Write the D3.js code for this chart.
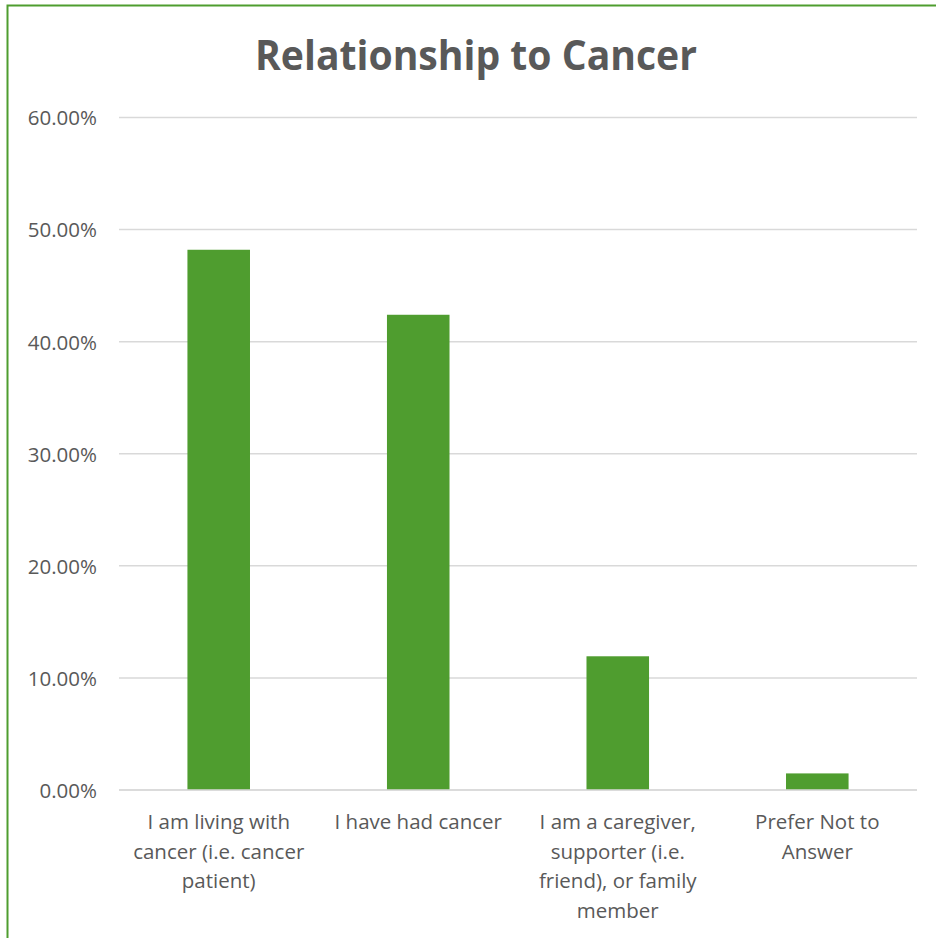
<!DOCTYPE html>
<html>
<head>
<meta charset="utf-8">
<script src="https://cdn.jsdelivr.net/npm/d3@7"></script>
<style>
  html, body { margin: 0; padding: 0; background: #fff; }
  svg { display: block; }
</style>
</head>
<body>
<svg id="chart" width="936" height="938"></svg>
<script>
const title = "Relationship to Cancer";
const categories = [
  "I am living with cancer (i.e. cancer patient)",
  "I have had cancer",
  "I am a caregiver, supporter (i.e. friend), or family member",
  "Prefer Not to Answer"
];
const categoryLines = [
  ["I am living with", "cancer (i.e. cancer", "patient)"],
  ["I have had cancer"],
  ["I am a caregiver,", "supporter (i.e.", "friend), or family", "member"],
  ["Prefer Not to", "Answer"]
];
const values = [0.482, 0.424, 0.1193, 0.0148];
const yTicks = [0, 0.1, 0.2, 0.3, 0.4, 0.5, 0.6];

const svg = d3.select("#chart");
const W = 936, H = 938;
const plot = { left: 119, right: 917, top: 117.5, bottom: 790 };
const textColor = "#595959";
const gridColor = "#D9D9D9";
const barColor = "#4F9D2F";
const font = "'Open Sans', 'Noto Sans', sans-serif";

// background + chart border (only top/left visible)
svg.append("rect").attr("x", 0).attr("y", 0).attr("width", W).attr("height", H).attr("fill", "#fff");
svg.append("rect").attr("x", 7.5).attr("y", 5.5).attr("width", W + 20).attr("height", H + 20)
  .attr("fill", "none").attr("stroke", "#4F9D2F").attr("stroke-width", 2);

const x = d3.scaleBand().domain(categories).range([plot.left, plot.right])
  .paddingInner(0.6865).paddingOuter(0.343);
const y = d3.scaleLinear().domain([0, 0.6]).range([plot.bottom, plot.top]);

// gridlines
svg.append("g").selectAll("line").data(yTicks).join("line")
  .attr("x1", plot.left).attr("x2", plot.right)
  .attr("y1", d => y(d)).attr("y2", d => y(d))
  .attr("stroke", gridColor).attr("stroke-width", 1.5);

// y axis labels
const yAxis = d3.axisLeft(y).tickValues(yTicks).tickSize(0).tickPadding(0)
  .tickFormat(d => (d * 100).toFixed(2) + "%");
const gy = svg.append("g").attr("transform", `translate(${plot.left - 22},0)`).call(yAxis);
gy.select(".domain").remove();
gy.selectAll("text").attr("fill", textColor).attr("font-family", font)
  .attr("font-size", 20.5).attr("dy", "0.36em");

// bars
svg.append("g").selectAll("rect").data(categories).join("rect")
  .attr("x", d => x(d)).attr("width", x.bandwidth())
  .attr("y", (d, i) => y(values[i]))
  .attr("height", (d, i) => y(0) - y(values[i]))
  .attr("fill", barColor);

// x axis baseline
svg.append("line").attr("x1", plot.left).attr("x2", plot.right)
  .attr("y1", y(0)).attr("y2", y(0)).attr("stroke", gridColor).attr("stroke-width", 1.5);

// category labels
const xl = svg.append("g");
categories.forEach((c, i) => {
  const t = xl.append("text").attr("text-anchor", "middle")
    .attr("fill", textColor).attr("font-family", font).attr("font-size", 20.5);
  categoryLines[i].forEach((line, j) => {
    t.append("tspan").attr("x", x(c) + x.bandwidth() / 2)
      .attr("y", 829 + j * 29.5).text(line);
  });
});

// title
svg.append("text").attr("x", 476).attr("y", 70).attr("text-anchor", "middle")
  .attr("fill", textColor).attr("font-family", font).attr("font-weight", "bold")
  .attr("font-size", 42).attr("textLength", 442).attr("lengthAdjust", "spacingAndGlyphs")
  .text(title);
</script>
</body>
</html>
